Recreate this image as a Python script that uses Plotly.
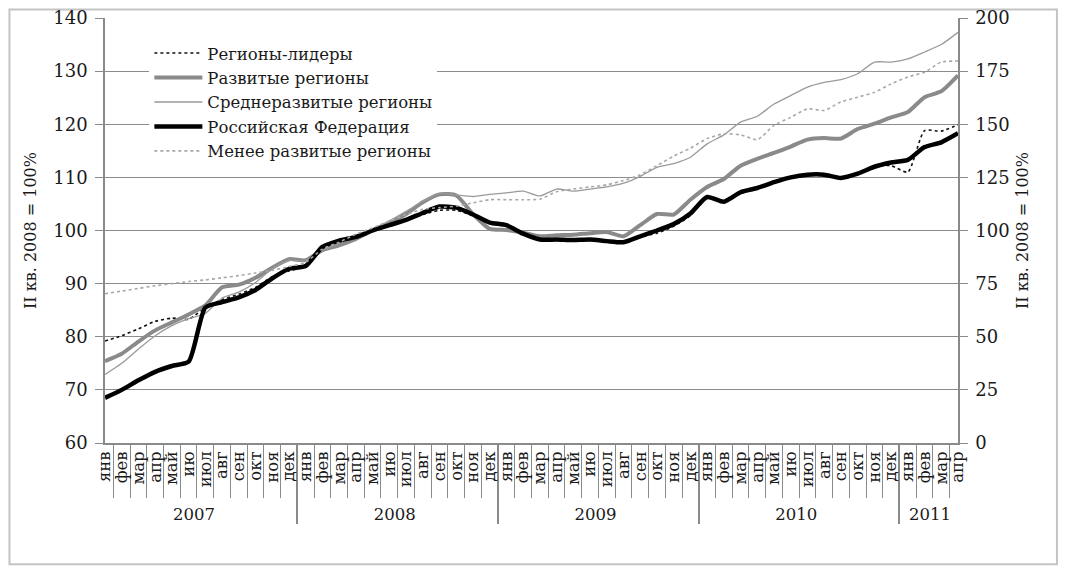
import plotly.graph_objects as go

years = ["2007", "2008", "2009", "2010", "2011"]
month_names = ["янв", "фев", "мар", "апр", "май", "ию", "июл", "авг", "сен", "окт", "ноя", "дек"]
months_per_year = [12, 12, 12, 12, 4]

leaders = [79.2, 80.2, 81.5, 82.9, 83.5, 83.3, 85.5, 87.0, 88.0, 89.3, 91.3, 92.4,
           93.3, 96.7, 98.0, 98.8, 100.2, 101.0, 102.0, 103.0, 103.8, 103.8, 102.8, 101.5,
           101.0, 99.3, 98.3, 98.4, 98.3, 98.4, 98.1, 97.9, 98.8, 99.5, 100.8, 102.8,
           106.3, 105.4, 107.2, 108.0, 109.1, 110.0, 110.5, 110.5, 109.9, 110.7, 112.0, 112.2,
           111.0, 118.8, 118.7, 119.9]
developed = [75.4, 76.8, 79.1, 81.2, 82.7, 84.2, 85.9, 89.3, 89.8, 91.1, 93.0, 94.6,
             94.4, 96.3, 97.2, 98.4, 100.0, 101.4, 103.1, 105.3, 106.8, 106.6, 103.1, 100.3,
             100.1, 99.6, 98.9, 99.1, 99.2, 99.5, 99.7, 98.9, 101.0, 103.1, 103.0, 105.8,
             108.2, 109.7, 112.2, 113.5, 114.6, 115.8, 117.1, 117.4, 117.3, 119.1, 120.1, 121.3,
             122.3, 125.1, 126.2, 129.2]
middle = [72.9, 75.0, 77.7, 80.2, 82.1, 83.4, 84.4, 87.3, 88.4, 90.2, 92.8, 94.4,
          94.3, 96.3, 97.6, 98.8, 100.3, 101.8, 103.6, 105.5, 107.0, 106.7, 106.4, 106.8,
          107.1, 107.4, 106.5, 107.8, 107.4, 107.8, 108.2, 108.9, 110.2, 111.9, 112.6, 113.8,
          116.3, 118.0, 120.4, 121.5, 123.8, 125.4, 127.0, 127.9, 128.4, 129.5, 131.7, 131.7,
          132.3, 133.6, 135.0, 137.3]
russia = [68.5, 70.0, 71.8, 73.4, 74.5, 75.3, 85.5, 86.5, 87.4, 88.8, 91.0, 92.8,
          93.3, 96.9, 98.1, 98.8, 100.0, 101.0, 102.0, 103.3, 104.5, 104.3, 103.0, 101.5,
          101.0, 99.4, 98.3, 98.3, 98.2, 98.3, 98.0, 97.8, 98.9, 100.0, 101.2, 103.2,
          106.3, 105.4, 107.2, 108.0, 109.1, 110.0, 110.5, 110.5, 109.9, 110.7, 112.0, 112.8,
          113.3, 115.7, 116.6, 118.3]
less = [88.1, 88.6, 89.1, 89.6, 90.0, 90.4, 90.7, 91.1, 91.5, 92.0, 92.5, 93.2,
        94.0, 96.5, 97.8, 99.3, 100.5, 101.8, 103.0, 104.0, 104.3, 104.6, 105.2, 105.8,
        105.8, 105.8, 105.9, 107.3, 107.8, 108.2, 108.6, 109.4, 110.5, 112.2, 114.0, 115.5,
        117.3, 118.2, 118.0, 117.1, 119.8, 121.3, 122.9, 122.6, 124.2, 125.1, 126.0, 127.6,
        128.9, 129.8, 131.7, 131.9]

x_year, x_month = [], []
for y, n in zip(years, months_per_year):
    for m in month_names[:n]:
        x_year.append(y)
        x_month.append(m)
x = [x_year, x_month]

FONT = "DejaVu Serif"
AXC = "#8a8a8a"
TXT = "#1a1a1a"

fig = go.Figure()
fig.add_trace(go.Scatter(x=x, y=leaders, name="Регионы-лидеры", mode="lines",
                         line=dict(color="#111111", width=1.6, dash="dot", shape="spline", smoothing=0.6)))
fig.add_trace(go.Scatter(x=x, y=developed, name="Развитые регионы", mode="lines",
                         line=dict(color="#8a8a8a", width=4, shape="spline", smoothing=0.6)))
fig.add_trace(go.Scatter(x=x, y=middle, name="Среднеразвитые регионы", mode="lines",
                         line=dict(color="#9a9a9a", width=1.3, shape="spline", smoothing=0.6)))
fig.add_trace(go.Scatter(x=x, y=russia, name="Российская Федерация", mode="lines",
                         line=dict(color="#000000", width=4.5, shape="spline", smoothing=0.6)))
fig.add_trace(go.Scatter(x=x, y=less, name="Менее развитые регионы", mode="lines",
                         line=dict(color="#a8a8a8", width=1.6, dash="dot", shape="spline", smoothing=0.6)))
# empty trace so that the secondary (right) axis is drawn
fig.add_trace(go.Scatter(x=[[years[0]], [month_names[0]]], y=[None], yaxis="y2",
                         showlegend=False, hoverinfo="skip", mode="lines"))

fig.update_layout(
    width=1058, height=562,
    margin=dict(l=97, r=108, t=9.5, b=127, autoexpand=False),
    paper_bgcolor="white", plot_bgcolor="white",
    font=dict(family=FONT, size=16, color=TXT),
    showlegend=True,
    legend=dict(x=0.052, y=0.958, xanchor="left", yanchor="top",
                bgcolor="white", font=dict(family=FONT, size=16.5, color=TXT),
                tracegroupgap=0, itemwidth=48),
    xaxis=dict(type="multicategory", tickmode="linear", tick0=0, dtick=1,
               tickangle=-90, showline=True, linecolor=AXC, automargin=False,
               linewidth=1.5, ticks="outside", ticklen=53, tickcolor=AXC,
               showgrid=False, showdividers=True, dividercolor=AXC, dividerwidth=1.5,
               tickfont=dict(family=FONT, size=16.5), mirror=False),
    yaxis=dict(range=[60, 140], dtick=10, showgrid=True, gridcolor="#8c8c8c", gridwidth=1.3,
               showline=True, linecolor=AXC, linewidth=1.5, ticks="outside", automargin=False,
               ticklen=8, tickcolor=AXC, zeroline=False, ticklabelstandoff=4,
               ticklabeloverflow="allow",
               tickfont=dict(family=FONT, size=18),
               title=dict(text="II кв. 2008 = 100%", font=dict(family=FONT, size=16), standoff=13)),
    yaxis2=dict(range=[0, 200], dtick=25, overlaying="y", side="right", showgrid=False,
                showline=True, linecolor=AXC, linewidth=1.5, ticks="outside", automargin=False,
                ticklen=8, tickcolor=AXC, zeroline=False, ticklabelstandoff=4,
                ticklabeloverflow="allow",
                tickfont=dict(family=FONT, size=18),
                title=dict(text="II кв. 2008 = 100%", font=dict(family=FONT, size=16), standoff=8)),
)

fig.add_shape(type="rect", xref="paper", yref="paper",
              x0=-0.112, x1=1.116, y0=-0.2855, y1=1.02,
              line=dict(color="#c4c4c4", width=2), layer="below")

fig.write_html("out.html")
